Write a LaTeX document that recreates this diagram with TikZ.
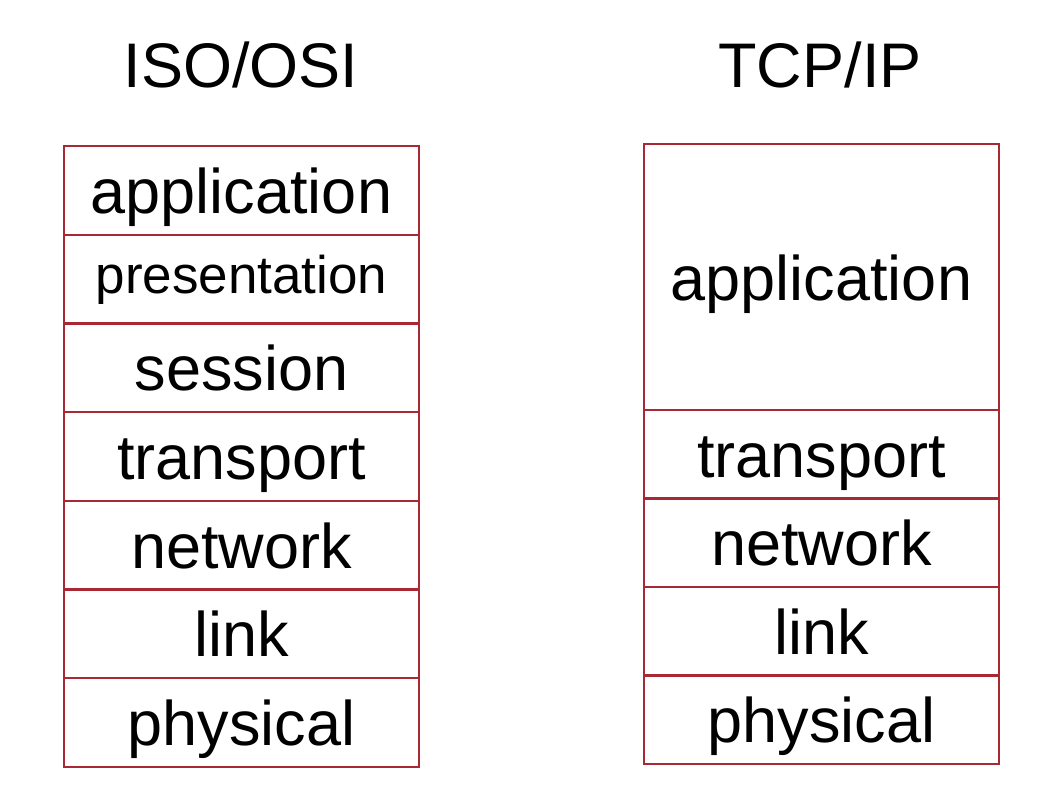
\documentclass[tikz,border=0pt]{standalone}
\usepackage{fontspec}
\setmainfont{Liberation Sans}
\definecolor{layerred}{RGB}{168,40,52}
\begin{document}
\begin{tikzpicture}[x=1pt,y=-1pt,
  layer/.style={draw=layerred, line width=2.4pt, fill=white, minimum width=355pt,
    inner sep=0pt, outer sep=0pt, text height=46pt, text depth=0pt,
    font=\fontsize{63}{70}\selectfont},
  title/.style={anchor=base, inner sep=0pt, font=\fontsize{63}{70}\selectfont}]
\useasboundingbox (0,0) rectangle (1046,800);
% titles
\node[title] (t1) at (241,87) {ISO/OSI};
\node[title] (t2) at (820,87) {TCP/IP};
% ISO/OSI stack (top 146, bottom 767)
\def\rh{88.71}
\node[layer, minimum height=\rh pt] (o1) at (241.5,{146+0.5*\rh}) {application};
\node[layer, minimum height=\rh pt, text height=28pt, font=\fontsize{53}{60}\selectfont] (o2) at (241.5,{146+1.5*\rh}) {presentation};
\node[layer, minimum height=\rh pt] (o3) at (241.5,{146+2.5*\rh}) {session};
\node[layer, minimum height=\rh pt] (o4) at (241.5,{146+3.5*\rh}) {transport};
\node[layer, minimum height=\rh pt] (o5) at (241.5,{146+4.5*\rh}) {network};
\node[layer, minimum height=\rh pt] (o6) at (241.5,{146+5.5*\rh}) {link};
\node[layer, minimum height=\rh pt] (o7) at (241.5,{146+6.5*\rh}) {physical};
% TCP/IP stack (top 144, 410, bottom 764)
\def\rr{88.5}
\node[layer, minimum height=266pt] (p1) at (821.5,277) {application};
\node[layer, minimum height=\rr pt] (p2) at (821.5,{410+0.5*\rr}) {transport};
\node[layer, minimum height=\rr pt] (p3) at (821.5,{410+1.5*\rr}) {network};
\node[layer, minimum height=\rr pt] (p4) at (821.5,{410+2.5*\rr}) {link};
\node[layer, minimum height=\rr pt] (p5) at (821.5,{410+3.5*\rr}) {physical};
\end{tikzpicture}
\end{document}
